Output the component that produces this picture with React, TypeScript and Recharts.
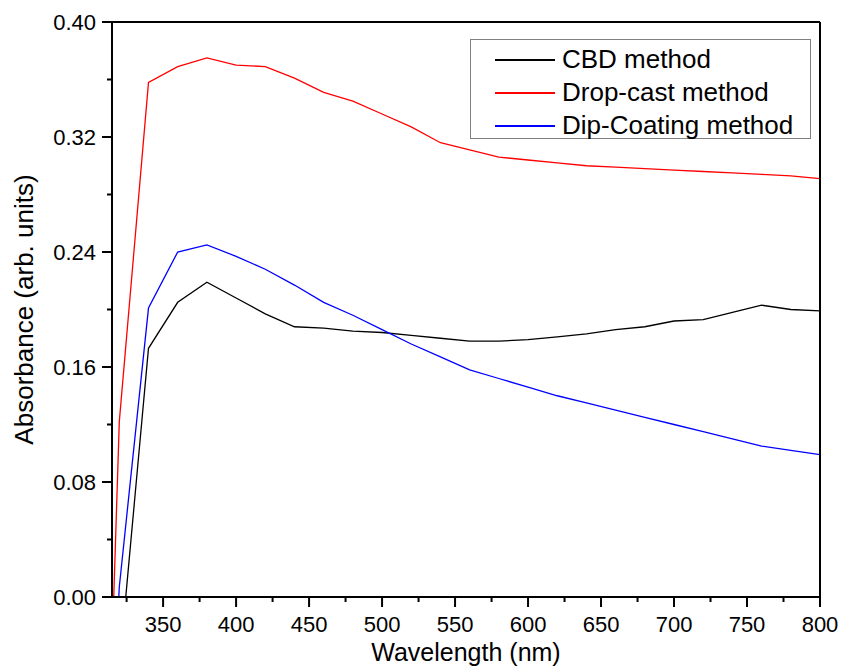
import { LineChart, Line, XAxis, YAxis, Legend, Label } from 'recharts'

// wavelength sampling (nm); 300 nm point only sets the slope of the clipped rise
const wavelengths = [
  300, 320, 340, 360, 380, 400, 420, 440, 460, 480, 500, 520, 540, 560, 580, 600, 620, 640, 660, 680,
  700, 720, 740, 760, 780, 800,
]
const cbd = [
  -0.27, -0.049, 0.173, 0.205, 0.219, 0.208, 0.197, 0.188, 0.187, 0.185, 0.184, 0.182, 0.18, 0.178,
  0.178, 0.179, 0.181, 0.183, 0.186, 0.188, 0.192, 0.193, 0.198, 0.203, 0.2, 0.199,
]
const dropCast = [
  -0.52, 0.122, 0.358, 0.369, 0.375, 0.37, 0.369, 0.361, 0.351, 0.345, 0.336, 0.327, 0.316, 0.311,
  0.306, 0.304, 0.302, 0.3, 0.299, 0.298, 0.297, 0.296, 0.295, 0.294, 0.293, 0.291,
]
const dipCoating = [
  -0.4, 0.007, 0.201, 0.24, 0.245, 0.237, 0.228, 0.217, 0.205, 0.196, 0.186, 0.176, 0.167, 0.158,
  0.152, 0.146, 0.14, 0.135, 0.13, 0.125, 0.12, 0.115, 0.11, 0.105, 0.102, 0.099,
]

const xTicks = [
  325, 350, 375, 400, 425, 450, 475, 500, 525, 550, 575, 600, 625, 650, 675, 700, 725, 750, 775, 800,
]
const yTicks = [0, 0.04, 0.08, 0.12, 0.16, 0.2, 0.24, 0.28, 0.32, 0.36, 0.4]

const series = [
  { key: 'cbd', name: 'CBD method', color: '#000000' },
  { key: 'dropCast', name: 'Drop-cast method', color: '#ff0000' },
  { key: 'dipCoating', name: 'Dip-Coating method', color: '#0000ff' },
]

const data = wavelengths.map((wl, i) => ({
  wl,
  cbd: cbd[i],
  dropCast: dropCast[i],
  dipCoating: dipCoating[i],
}))

const FONT = 'Arial, "Liberation Sans", sans-serif'

function XTick({ x, y, payload }: any) {
  const major = payload.value % 50 === 0
  return (
    <g>
      <line x1={x} x2={x} y1={y} y2={y + (major ? 10 : 5)} stroke="#000" strokeWidth={2} />
      {major && (
        <text x={x} y={y + 35} textAnchor="middle" fontSize={22} fontFamily={FONT} fill="#000">
          {payload.value}
        </text>
      )}
    </g>
  )
}

function YTick({ x, y, payload }: any) {
  const major = Math.round(payload.value / 0.04) % 2 === 0
  return (
    <g>
      <line x1={x} x2={x - (major ? 10 : 5)} y1={y} y2={y} stroke="#000" strokeWidth={2} />
      {major && (
        <text x={x - 16} y={y} dy="0.36em" textAnchor="end" fontSize={22} fontFamily={FONT} fill="#000">
          {payload.value.toFixed(2)}
        </text>
      )}
    </g>
  )
}

function LegendBox() {
  return (
    <div
      style={{
        boxSizing: 'border-box',
        width: 341,
        height: 100,
        border: '1px solid #808080',
        background: '#fff',
        paddingTop: 3,
        fontFamily: FONT,
      }}
    >
      {series.map((s) => (
        <div key={s.key} style={{ display: 'flex', alignItems: 'center', height: 33 }}>
          <div style={{ marginLeft: 24, width: 60, height: 2, background: s.color }} />
          <span style={{ marginLeft: 7, fontSize: 26, color: '#000', lineHeight: '33px' }}>{s.name}</span>
        </div>
      ))}
    </div>
  )
}

export default function App() {
  return (
    <div style={{ position: 'absolute', left: 0, top: 0, background: '#fff' }}>
      <LineChart width={847} height={667} data={data} margin={{ top: 21, right: 26, bottom: 69, left: 111 }}>
        <XAxis
          dataKey="wl"
          type="number"
          domain={[315, 800]}
          allowDataOverflow
          ticks={xTicks}
          interval={0}
          height={1}
          tickSize={0}
          tickMargin={0}
          tickLine={false}
          tick={<XTick />}
          axisLine={{ stroke: '#000', strokeWidth: 2 }}
        >
          <Label
            content={({ viewBox }: any) => (
              <text
                x={viewBox.x + viewBox.width / 2}
                y={viewBox.y + 64}
                textAnchor="middle"
                fontSize={25}
                fontFamily={FONT}
                fill="#000"
              >
                Wavelength (nm)
              </text>
            )}
          />
        </XAxis>
        <XAxis
          xAxisId="top"
          orientation="top"
          type="number"
          domain={[315, 800]}
          allowDataOverflow
          ticks={xTicks}
          interval={0}
          height={1}
          tick={false}
          tickSize={4}
          tickLine={{ stroke: '#000', strokeWidth: 2 }}
          axisLine={{ stroke: '#000', strokeWidth: 2 }}
        />
        <YAxis
          type="number"
          domain={[0, 0.4]}
          allowDataOverflow
          ticks={yTicks}
          interval={0}
          width={1}
          tickSize={0}
          tickMargin={0}
          tickLine={false}
          tick={<YTick />}
          axisLine={{ stroke: '#000', strokeWidth: 2 }}
        >
          <Label
            content={({ viewBox }: any) => {
              const cx = viewBox.x - 78
              const cy = viewBox.y + viewBox.height / 2
              return (
                <text
                  x={cx}
                  y={cy}
                  transform={`rotate(-90 ${cx} ${cy})`}
                  textAnchor="middle"
                  fontSize={26}
                  fontFamily={FONT}
                  fill="#000"
                >
                  Absorbance (arb. units)
                </text>
              )
            }}
          />
        </YAxis>
        <YAxis
          yAxisId="right"
          orientation="right"
          type="number"
          domain={[0, 0.4]}
          allowDataOverflow
          ticks={yTicks}
          interval={0}
          width={1}
          tick={false}
          tickSize={4}
          tickLine={{ stroke: '#000', strokeWidth: 2 }}
          axisLine={{ stroke: '#000', strokeWidth: 2 }}
        />
        {series.map((s) => (
          <Line
            key={s.key}
            type="linear"
            dataKey={s.key}
            name={s.name}
            stroke={s.color}
            strokeWidth={1.3}
            dot={false}
            activeDot={false}
            isAnimationActive={false}
          />
        ))}
        <Legend
          layout="vertical"
          align="center"
          verticalAlign="middle"
          wrapperStyle={{ left: 470, top: 39, width: 341, height: 100 }}
          content={() => <LegendBox />}
        />
      </LineChart>
    </div>
  )
}
